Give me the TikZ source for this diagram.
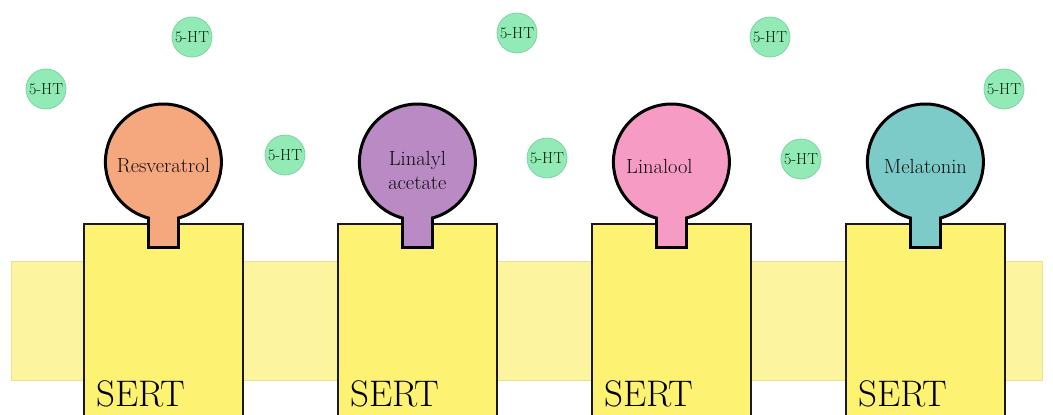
\documentclass[tikz,border=0pt]{standalone}
\usepackage{tikz}

\definecolor{membrane}{HTML}{FCF49E}
\definecolor{membraneedge}{HTML}{EDE28C}
\definecolor{sertfill}{HTML}{FEF273}
\definecolor{resv}{HTML}{F5A77D}
\definecolor{linac}{HTML}{B98AC3}
\definecolor{linal}{HTML}{F59BC4}
\definecolor{melat}{HTML}{7DCBC8}
\definecolor{htfill}{HTML}{92EBB6}
\definecolor{htedge}{HTML}{7FD3A2}

\tikzset{
  sertbox/.style={draw=black!90, line width=1.8pt, fill=sertfill, anchor=north west,
    minimum width=159pt, minimum height=200pt, inner sep=0pt},
  ball/.style={circle, draw=black, line width=3pt, minimum size=116pt, inner sep=0pt},
  neck/.style={draw=black, line width=3pt},
  balltext/.style={font=\fontsize{20.5}{24}\selectfont, align=center},
  serttext/.style={font=\fontsize{37}{40}\selectfont, anchor=base west, inner sep=0pt},
  ht/.style={circle, draw=htedge, line width=0.8pt, fill=htfill, minimum size=40pt,
    inner sep=0pt, font=\fontsize{16}{18}\selectfont, text=green!15!black}
}

% one transporter: box, neck and ligand ball
% #1 name, #2 box left x, #3 ball colour
\newcommand{\transporter}[3]{%
  \node[sertbox] (#1box) at (#2,223) {};
  \node[serttext] (#1sert) at (#2+13,406) {SERT};
  \path (#1box.north) coordinate (#1top);
  \draw[neck, fill=#3] ([xshift=-15pt,yshift=-24pt]#1top) rectangle ([xshift=15pt,yshift=60pt]#1top);
  \node[ball, fill=#3] (#1ball) at ([yshift=61pt]#1top) {};
  \fill[#3] ([xshift=-13.5pt,yshift=-22.5pt]#1top) rectangle ([xshift=13.5pt,yshift=12pt]#1top);
}

\begin{document}
\begin{tikzpicture}[x=1pt, y=-1pt]
  \useasboundingbox[fill=white] (0,0) rectangle (1053,415);

  % lipid membrane
  \draw[membraneedge, line width=0.8pt, fill=membrane] (11,261) rectangle (1042,380);

  \transporter{t1}{83}{resv}
  \transporter{t2}{337}{linac}
  \transporter{t3}{591}{linal}
  \transporter{t4}{845}{melat}

  \node[balltext, text=resv!8!black] (l1) at ([yshift=-4pt]t1ball.center) {Resveratrol};
  \node[balltext, text=linac!8!black] (l2) at ([yshift=-8pt]t2ball.center) {Linalyl\\acetate};
  \node[balltext, text=linal!8!black] (l3) at ([xshift=-12pt,yshift=-4pt]t3ball.center) {Linalool};
  \node[balltext, text=melat!8!black] (l4) at ([yshift=-4pt]t4ball.center) {Melatonin};

  % free serotonin
  \node[ht] (h1) at (192,37) {5-HT};
  \node[ht] (h2) at (46,89) {5-HT};
  \node[ht] (h3) at (285,155) {5-HT};
  \node[ht] (h4) at (517,33) {5-HT};
  \node[ht] (h5) at (547,158) {5-HT};
  \node[ht] (h6) at (770,37) {5-HT};
  \node[ht] (h7) at (801,159) {5-HT};
  \node[ht] (h8) at (1004,89) {5-HT};
\end{tikzpicture}
\end{document}
